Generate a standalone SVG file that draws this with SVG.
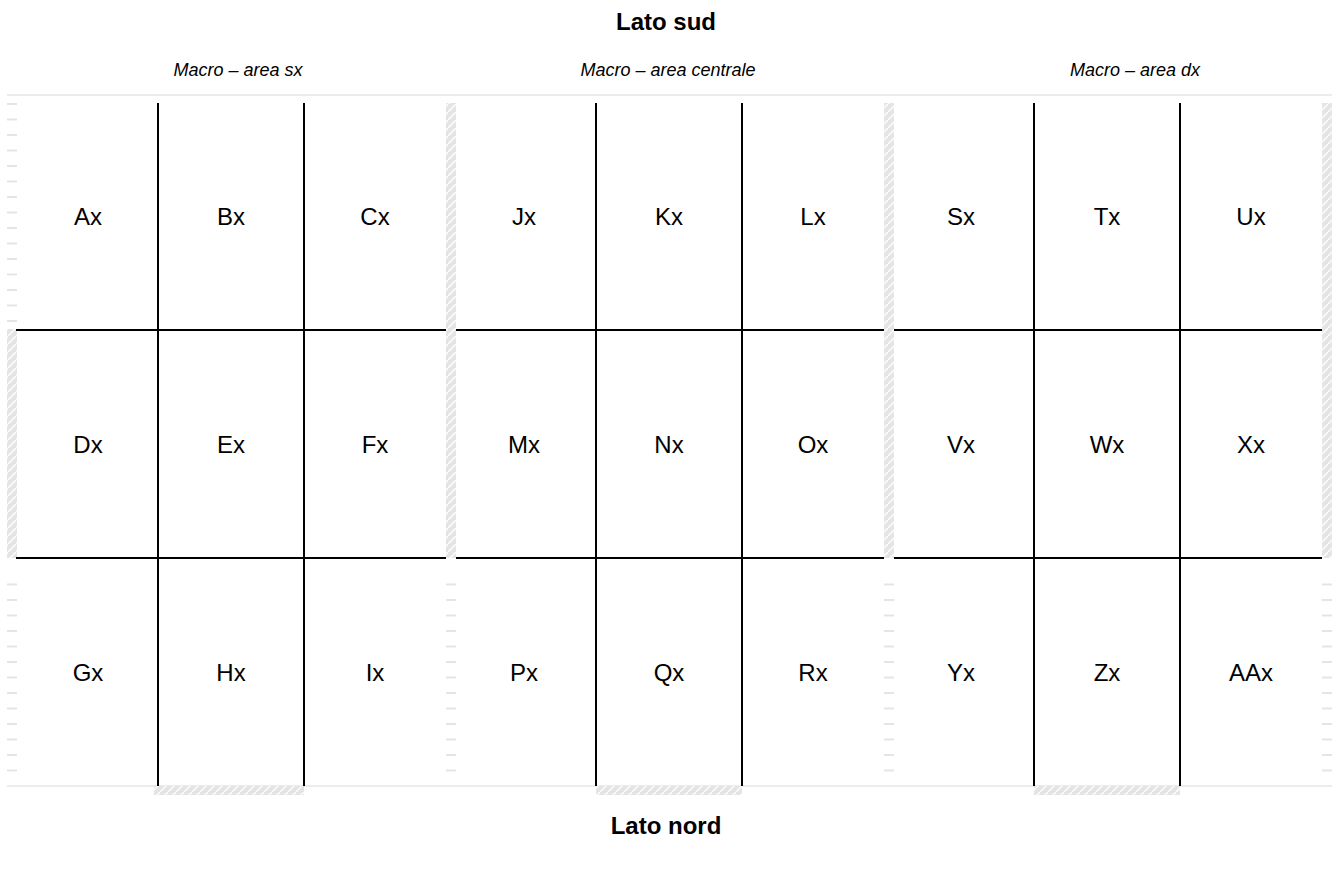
<svg xmlns="http://www.w3.org/2000/svg" width="1333" height="869" viewBox="0 0 1333 869">
<defs>
<pattern id="hatch" patternUnits="userSpaceOnUse" width="8" height="8">
<rect width="8" height="8" fill="#e4e4e4"/>
<path d="M-1,9 L9,-1" stroke="#fafafa" stroke-width="1.8"/>
</pattern>
<pattern id="dash" patternUnits="userSpaceOnUse" x="7" y="103" width="10" height="15.5">
<rect x="0" y="0" width="10" height="2" fill="#e4e4e4"/>
</pattern>
</defs>
<style>
.title{font-family:"Liberation Sans",Arial,sans-serif;font-size:24px;font-weight:bold;text-anchor:middle;fill:#000}
.sub{font-family:"Liberation Sans",Arial,sans-serif;font-size:18px;font-style:italic;text-anchor:middle;fill:#000}
.cell{font-family:"Liberation Sans",Arial,sans-serif;font-size:24px;text-anchor:middle;dominant-baseline:central;fill:#000}
.grid{stroke:#000;stroke-width:2;fill:none}
</style>
<rect width="1333" height="869" fill="#fff"/>
<g id="titles">
<text class="title" x="666" y="30">Lato sud</text>
<text class="sub" x="238" y="76">Macro – area sx</text>
<text class="sub" x="668" y="76">Macro – area centrale</text>
<text class="sub" x="1135" y="76">Macro – area dx</text>
<text class="title" x="666" y="834">Lato nord</text>
</g>
<g id="borders">
<rect x="7" y="94" width="1325" height="2" fill="#ececec"/>
<rect x="7" y="785" width="1325" height="2" fill="#ececec"/>
<rect x="7" y="103" width="10" height="226" fill="url(#dash)"/>
<rect x="7" y="329" width="10" height="229" fill="url(#hatch)"/>
<rect x="7" y="572" width="10" height="210" fill="url(#dash)"/>
<rect x="446" y="103" width="10" height="226" fill="url(#hatch)"/>
<rect x="446" y="329" width="10" height="229" fill="url(#hatch)"/>
<rect x="446" y="572" width="10" height="210" fill="url(#dash)"/>
<rect x="884" y="103" width="10" height="226" fill="url(#hatch)"/>
<rect x="884" y="329" width="10" height="229" fill="url(#hatch)"/>
<rect x="884" y="572" width="10" height="210" fill="url(#dash)"/>
<rect x="1322" y="103" width="10" height="226" fill="url(#hatch)"/>
<rect x="1322" y="329" width="10" height="229" fill="url(#hatch)"/>
<rect x="1322" y="572" width="10" height="210" fill="url(#dash)"/>
<rect x="154" y="786" width="150" height="9" fill="url(#hatch)"/>
<rect x="596" y="786" width="146" height="9" fill="url(#hatch)"/>
<rect x="1034" y="786" width="146" height="9" fill="url(#hatch)"/>
</g>
<g id="connectors" class="grid">
<line x1="158" y1="103" x2="158" y2="786"/>
<line x1="304" y1="103" x2="304" y2="786"/>
<line x1="596" y1="103" x2="596" y2="786"/>
<line x1="742" y1="103" x2="742" y2="786"/>
<line x1="1034" y1="103" x2="1034" y2="786"/>
<line x1="1180" y1="103" x2="1180" y2="786"/>
<line x1="16" y1="330" x2="446" y2="330"/>
<line x1="456" y1="330" x2="884" y2="330"/>
<line x1="894" y1="330" x2="1322" y2="330"/>
<line x1="16" y1="558" x2="446" y2="558"/>
<line x1="456" y1="558" x2="884" y2="558"/>
<line x1="894" y1="558" x2="1322" y2="558"/>
</g>
<g id="Ax"><text class="cell" x="88" y="216">Ax</text></g>
<g id="Bx"><text class="cell" x="231" y="216">Bx</text></g>
<g id="Cx"><text class="cell" x="375" y="216">Cx</text></g>
<g id="Jx"><text class="cell" x="524" y="216">Jx</text></g>
<g id="Kx"><text class="cell" x="669" y="216">Kx</text></g>
<g id="Lx"><text class="cell" x="813" y="216">Lx</text></g>
<g id="Sx"><text class="cell" x="961" y="216">Sx</text></g>
<g id="Tx"><text class="cell" x="1107" y="216">Tx</text></g>
<g id="Ux"><text class="cell" x="1251" y="216">Ux</text></g>
<g id="Dx"><text class="cell" x="88" y="444">Dx</text></g>
<g id="Ex"><text class="cell" x="231" y="444">Ex</text></g>
<g id="Fx"><text class="cell" x="375" y="444">Fx</text></g>
<g id="Mx"><text class="cell" x="524" y="444">Mx</text></g>
<g id="Nx"><text class="cell" x="669" y="444">Nx</text></g>
<g id="Ox"><text class="cell" x="813" y="444">Ox</text></g>
<g id="Vx"><text class="cell" x="961" y="444">Vx</text></g>
<g id="Wx"><text class="cell" x="1107" y="444">Wx</text></g>
<g id="Xx"><text class="cell" x="1251" y="444">Xx</text></g>
<g id="Gx"><text class="cell" x="88" y="672">Gx</text></g>
<g id="Hx"><text class="cell" x="231" y="672">Hx</text></g>
<g id="Ix"><text class="cell" x="375" y="672">Ix</text></g>
<g id="Px"><text class="cell" x="524" y="672">Px</text></g>
<g id="Qx"><text class="cell" x="669" y="672">Qx</text></g>
<g id="Rx"><text class="cell" x="813" y="672">Rx</text></g>
<g id="Yx"><text class="cell" x="961" y="672">Yx</text></g>
<g id="Zx"><text class="cell" x="1107" y="672">Zx</text></g>
<g id="AAx"><text class="cell" x="1251" y="672">AAx</text></g>
</svg>
